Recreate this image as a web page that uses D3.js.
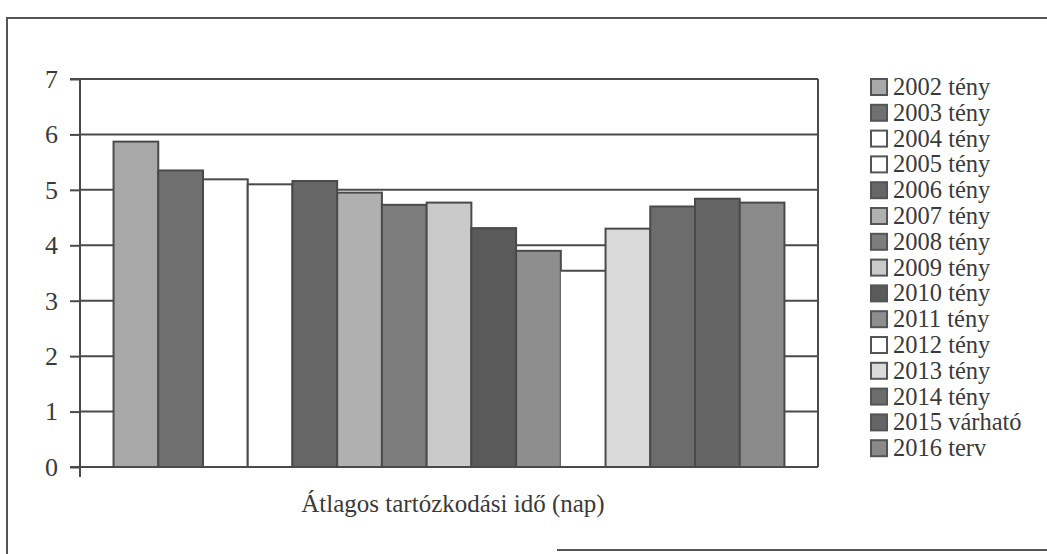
<!DOCTYPE html>
<html><head><meta charset="utf-8">
<script src="https://cdn.jsdelivr.net/npm/d3@7"></script>
<style>body{margin:0;background:#fff}svg{display:block}</style>
</head><body><svg id="c" width="1047" height="554"></svg>
<script>
const categories = ["Átlagos tartózkodási idő (nap)"];
const seriesNames = ["2002 tény","2003 tény","2004 tény","2005 tény","2006 tény","2007 tény","2008 tény","2009 tény","2010 tény","2011 tény","2012 tény","2013 tény","2014 tény","2015 várható","2016 terv"];
const values = [5.87,5.35,5.19,5.10,5.16,4.95,4.73,4.77,4.31,3.90,3.54,4.30,4.70,4.84,4.77];
const colors = ["#a8a8a8","#707070","#ffffff","#ffffff","#666666","#b0b0b0","#7d7d7d","#cacaca","#5a5a5a","#8e8e8e","#ffffff","#dadada","#6c6c6c","#656565","#8a8a8a"];
const yTicks = [0,1,2,3,4,5,6,7];

(function(){
const svg = d3.select("#c");
const pL = 80, pR = 818, pT = 79, pB = 467;
const y = d3.scaleLinear().domain([0,7]).range([pB, pT]);
const x0 = d3.scaleBand().domain(categories).range([pL, pR]).paddingOuter(0.05);
const x1 = d3.scaleBand().domain(seriesNames).range([x0(categories[0]), x0(categories[0]) + x0.bandwidth()]);
const ink = "#4a4a4a";
const txt = "#3a3a3a";

// outer border
svg.append("path").attr("d","M7,554 L7,18 L1047,18").attr("fill","none").attr("stroke","#555").attr("stroke-width",2);
svg.append("line").attr("x1",557).attr("x2",1047).attr("y1",550).attr("y2",550).attr("stroke","#555").attr("stroke-width",2);

// gridlines
svg.append("g").selectAll("line").data(yTicks.filter(d=>d>0)).join("line")
  .attr("x1",pL).attr("x2",pR).attr("y1",d=>y(d)).attr("y2",d=>y(d))
  .attr("stroke",ink).attr("stroke-width",2);
// right border
svg.append("line").attr("x1",pR).attr("x2",pR).attr("y1",pT).attr("y2",pB).attr("stroke",ink).attr("stroke-width",2);

// bars
svg.append("g").selectAll("rect").data(seriesNames).join("rect")
  .attr("x",d=>x1(d)).attr("width",x1.bandwidth())
  .attr("y",(d,i)=>y(values[i])).attr("height",(d,i)=>pB - y(values[i]))
  .attr("fill",(d,i)=>colors[i]).attr("stroke",ink).attr("stroke-width",2)
  .attr("stroke-dasharray",(d,i)=> d==="2012 tény" ? `${x1.bandwidth()},100000` : null);

// y axis
const ya = svg.append("g").attr("transform",`translate(${pL},0)`)
  .call(d3.axisLeft(y).tickValues(yTicks).tickFormat(d3.format("d")).tickSize(10).tickPadding(12));
ya.select(".domain").attr("stroke",ink).attr("stroke-width",2).attr("d",`M-10,${pB}H0V${pT}H-10`);
ya.selectAll(".tick line").attr("stroke",ink).attr("stroke-width",2);
ya.selectAll(".tick text").attr("font-family","Liberation Serif").attr("font-size",26).attr("fill",txt);
// bottom axis line
svg.append("line").attr("x1",pL-10).attr("x2",pR).attr("y1",pB).attr("y2",pB).attr("stroke",ink).attr("stroke-width",2);
svg.append("line").attr("x1",pL).attr("x2",pL).attr("y1",pB).attr("y2",pB+10).attr("stroke",ink).attr("stroke-width",2);

// category label
svg.append("text").attr("x",453).attr("y",512)
  .attr("text-anchor","middle").attr("font-family","Liberation Serif").attr("font-size",25).attr("fill",txt)
  .text(categories[0]);

// legend
const lg = svg.append("g").attr("transform","translate(871,87)");
const row = lg.selectAll("g").data(seriesNames).join("g").attr("transform",(d,i)=>`translate(0,${i*25.8})`);
row.append("rect").attr("x",0).attr("y",-8).attr("width",16).attr("height",16)
  .attr("fill",(d,i)=>colors[i]).attr("stroke","#555").attr("stroke-width",2);
row.append("text").attr("x",22).attr("y",8).attr("font-family","Liberation Serif").attr("font-size",24.5).attr("fill",txt)
  .text(d=>d);
})();
</script></body></html>
